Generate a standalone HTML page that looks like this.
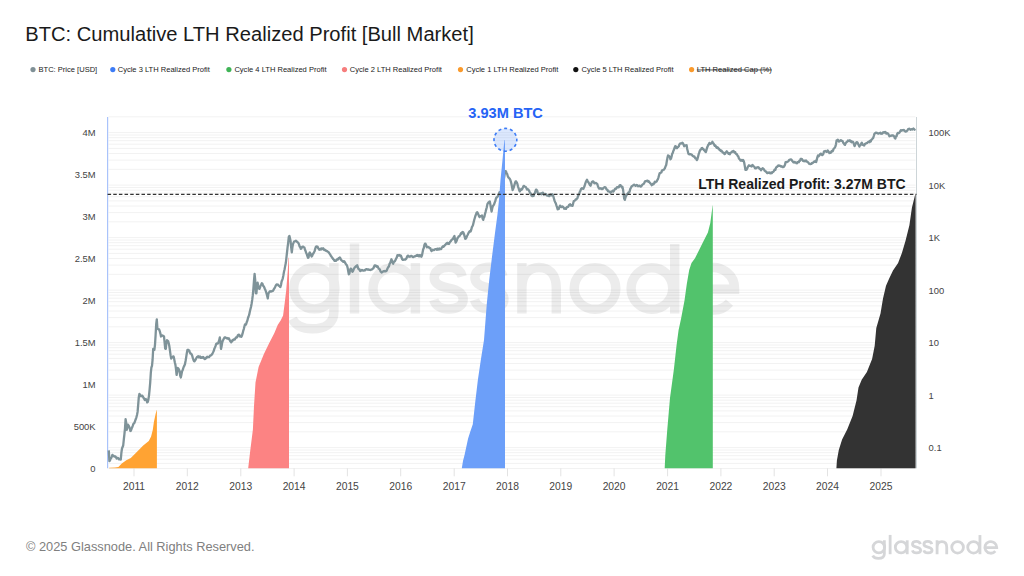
<!DOCTYPE html>
<html><head><meta charset="utf-8"><style>
html,body{margin:0;padding:0;background:#fff;width:1024px;height:576px;overflow:hidden}
svg{position:absolute;left:0;top:0;font-family:"Liberation Sans", sans-serif}
</style></head><body>
<svg width="1024" height="576" viewBox="0 0 1024 576">
<text x="25.3" y="41.3" font-size="20.15" fill="#1a1a1a">BTC: Cumulative LTH Realized Profit [Bull Market]</text>
<circle cx="33" cy="69.6" r="2.6" fill="#7f9096"/>
<text x="38.5" y="72.3" font-size="7.55" fill="#222">BTC: Price [USD]</text>
<circle cx="112.8" cy="69.6" r="2.6" fill="#3d7cf6"/>
<text x="117.7" y="72.3" font-size="7.55" fill="#222">Cycle 3 LTH Realized Profit</text>
<circle cx="228.9" cy="69.6" r="2.6" fill="#3fb456"/>
<text x="234.4" y="72.3" font-size="7.55" fill="#222">Cycle 4 LTH Realized Profit</text>
<circle cx="344.5" cy="69.6" r="2.6" fill="#f67d7d"/>
<text x="349.8" y="72.3" font-size="7.55" fill="#222">Cycle 2 LTH Realized Profit</text>
<circle cx="460.5" cy="69.6" r="2.6" fill="#fa9a2c"/>
<text x="466.2" y="72.3" font-size="7.55" fill="#222">Cycle 1 LTH Realized Profit</text>
<circle cx="575.8" cy="69.6" r="2.6" fill="#111"/>
<text x="581.5" y="72.3" font-size="7.55" fill="#222">Cycle 5 LTH Realized Profit</text>
<circle cx="691.6" cy="69.6" r="2.6" fill="#fa9a2c"/>
<text x="696.8" y="72.3" font-size="7.55" fill="#222" text-decoration="line-through">LTH Realized Cap (%)</text>
<line x1="108.6" x2="915.5" y1="468.5" y2="468.5" stroke="#f2f2f2" stroke-width="1"/>
<line x1="108.6" x2="915.5" y1="463.4" y2="463.4" stroke="#f2f2f2" stroke-width="1"/>
<line x1="108.6" x2="915.5" y1="459.2" y2="459.2" stroke="#f2f2f2" stroke-width="1"/>
<line x1="108.6" x2="915.5" y1="455.7" y2="455.7" stroke="#f2f2f2" stroke-width="1"/>
<line x1="108.6" x2="915.5" y1="452.7" y2="452.7" stroke="#f2f2f2" stroke-width="1"/>
<line x1="108.6" x2="915.5" y1="450.0" y2="450.0" stroke="#f2f2f2" stroke-width="1"/>
<line x1="108.6" x2="915.5" y1="447.6" y2="447.6" stroke="#f2f2f2" stroke-width="1"/>
<line x1="108.6" x2="915.5" y1="431.8" y2="431.8" stroke="#f2f2f2" stroke-width="1"/>
<line x1="108.6" x2="915.5" y1="422.6" y2="422.6" stroke="#f2f2f2" stroke-width="1"/>
<line x1="108.6" x2="915.5" y1="416.0" y2="416.0" stroke="#f2f2f2" stroke-width="1"/>
<line x1="108.6" x2="915.5" y1="410.9" y2="410.9" stroke="#f2f2f2" stroke-width="1"/>
<line x1="108.6" x2="915.5" y1="406.7" y2="406.7" stroke="#f2f2f2" stroke-width="1"/>
<line x1="108.6" x2="915.5" y1="403.2" y2="403.2" stroke="#f2f2f2" stroke-width="1"/>
<line x1="108.6" x2="915.5" y1="400.2" y2="400.2" stroke="#f2f2f2" stroke-width="1"/>
<line x1="108.6" x2="915.5" y1="397.5" y2="397.5" stroke="#f2f2f2" stroke-width="1"/>
<line x1="108.6" x2="915.5" y1="395.1" y2="395.1" stroke="#f2f2f2" stroke-width="1"/>
<line x1="108.6" x2="915.5" y1="379.3" y2="379.3" stroke="#f2f2f2" stroke-width="1"/>
<line x1="108.6" x2="915.5" y1="370.1" y2="370.1" stroke="#f2f2f2" stroke-width="1"/>
<line x1="108.6" x2="915.5" y1="363.5" y2="363.5" stroke="#f2f2f2" stroke-width="1"/>
<line x1="108.6" x2="915.5" y1="358.4" y2="358.4" stroke="#f2f2f2" stroke-width="1"/>
<line x1="108.6" x2="915.5" y1="354.2" y2="354.2" stroke="#f2f2f2" stroke-width="1"/>
<line x1="108.6" x2="915.5" y1="350.7" y2="350.7" stroke="#f2f2f2" stroke-width="1"/>
<line x1="108.6" x2="915.5" y1="347.7" y2="347.7" stroke="#f2f2f2" stroke-width="1"/>
<line x1="108.6" x2="915.5" y1="345.0" y2="345.0" stroke="#f2f2f2" stroke-width="1"/>
<line x1="108.6" x2="915.5" y1="342.6" y2="342.6" stroke="#f2f2f2" stroke-width="1"/>
<line x1="108.6" x2="915.5" y1="326.8" y2="326.8" stroke="#f2f2f2" stroke-width="1"/>
<line x1="108.6" x2="915.5" y1="317.6" y2="317.6" stroke="#f2f2f2" stroke-width="1"/>
<line x1="108.6" x2="915.5" y1="311.0" y2="311.0" stroke="#f2f2f2" stroke-width="1"/>
<line x1="108.6" x2="915.5" y1="305.9" y2="305.9" stroke="#f2f2f2" stroke-width="1"/>
<line x1="108.6" x2="915.5" y1="301.7" y2="301.7" stroke="#f2f2f2" stroke-width="1"/>
<line x1="108.6" x2="915.5" y1="298.2" y2="298.2" stroke="#f2f2f2" stroke-width="1"/>
<line x1="108.6" x2="915.5" y1="295.2" y2="295.2" stroke="#f2f2f2" stroke-width="1"/>
<line x1="108.6" x2="915.5" y1="292.5" y2="292.5" stroke="#f2f2f2" stroke-width="1"/>
<line x1="108.6" x2="915.5" y1="290.1" y2="290.1" stroke="#f2f2f2" stroke-width="1"/>
<line x1="108.6" x2="915.5" y1="274.3" y2="274.3" stroke="#f2f2f2" stroke-width="1"/>
<line x1="108.6" x2="915.5" y1="265.1" y2="265.1" stroke="#f2f2f2" stroke-width="1"/>
<line x1="108.6" x2="915.5" y1="258.5" y2="258.5" stroke="#f2f2f2" stroke-width="1"/>
<line x1="108.6" x2="915.5" y1="253.4" y2="253.4" stroke="#f2f2f2" stroke-width="1"/>
<line x1="108.6" x2="915.5" y1="249.2" y2="249.2" stroke="#f2f2f2" stroke-width="1"/>
<line x1="108.6" x2="915.5" y1="245.7" y2="245.7" stroke="#f2f2f2" stroke-width="1"/>
<line x1="108.6" x2="915.5" y1="242.7" y2="242.7" stroke="#f2f2f2" stroke-width="1"/>
<line x1="108.6" x2="915.5" y1="240.0" y2="240.0" stroke="#f2f2f2" stroke-width="1"/>
<line x1="108.6" x2="915.5" y1="237.6" y2="237.6" stroke="#f2f2f2" stroke-width="1"/>
<line x1="108.6" x2="915.5" y1="221.8" y2="221.8" stroke="#f2f2f2" stroke-width="1"/>
<line x1="108.6" x2="915.5" y1="212.6" y2="212.6" stroke="#f2f2f2" stroke-width="1"/>
<line x1="108.6" x2="915.5" y1="206.0" y2="206.0" stroke="#f2f2f2" stroke-width="1"/>
<line x1="108.6" x2="915.5" y1="200.9" y2="200.9" stroke="#f2f2f2" stroke-width="1"/>
<line x1="108.6" x2="915.5" y1="196.7" y2="196.7" stroke="#f2f2f2" stroke-width="1"/>
<line x1="108.6" x2="915.5" y1="193.2" y2="193.2" stroke="#f2f2f2" stroke-width="1"/>
<line x1="108.6" x2="915.5" y1="190.2" y2="190.2" stroke="#f2f2f2" stroke-width="1"/>
<line x1="108.6" x2="915.5" y1="187.5" y2="187.5" stroke="#f2f2f2" stroke-width="1"/>
<line x1="108.6" x2="915.5" y1="185.1" y2="185.1" stroke="#f2f2f2" stroke-width="1"/>
<line x1="108.6" x2="915.5" y1="169.3" y2="169.3" stroke="#f2f2f2" stroke-width="1"/>
<line x1="108.6" x2="915.5" y1="160.1" y2="160.1" stroke="#f2f2f2" stroke-width="1"/>
<line x1="108.6" x2="915.5" y1="153.5" y2="153.5" stroke="#f2f2f2" stroke-width="1"/>
<line x1="108.6" x2="915.5" y1="148.4" y2="148.4" stroke="#f2f2f2" stroke-width="1"/>
<line x1="108.6" x2="915.5" y1="144.2" y2="144.2" stroke="#f2f2f2" stroke-width="1"/>
<line x1="108.6" x2="915.5" y1="140.7" y2="140.7" stroke="#f2f2f2" stroke-width="1"/>
<line x1="108.6" x2="915.5" y1="137.7" y2="137.7" stroke="#f2f2f2" stroke-width="1"/>
<line x1="108.6" x2="915.5" y1="135.0" y2="135.0" stroke="#f2f2f2" stroke-width="1"/>
<line x1="108.6" x2="915.5" y1="132.6" y2="132.6" stroke="#f2f2f2" stroke-width="1"/>
<line x1="108.6" x2="915.5" y1="116.8" y2="116.8" stroke="#f2f2f2" stroke-width="1"/>
<line x1="134.0" x2="134.0" y1="468.3" y2="476.3" stroke="#e3e3e3" stroke-width="1"/>
<text transform="translate(134.0,489.6) scale(1,1.02)" text-anchor="middle" font-size="10.3" fill="#444">2011</text>
<line x1="187.3" x2="187.3" y1="468.3" y2="476.3" stroke="#e3e3e3" stroke-width="1"/>
<text transform="translate(187.3,489.6) scale(1,1.02)" text-anchor="middle" font-size="10.3" fill="#444">2012</text>
<line x1="240.8" x2="240.8" y1="468.3" y2="476.3" stroke="#e3e3e3" stroke-width="1"/>
<text transform="translate(240.8,489.6) scale(1,1.02)" text-anchor="middle" font-size="10.3" fill="#444">2013</text>
<line x1="294.1" x2="294.1" y1="468.3" y2="476.3" stroke="#e3e3e3" stroke-width="1"/>
<text transform="translate(294.1,489.6) scale(1,1.02)" text-anchor="middle" font-size="10.3" fill="#444">2014</text>
<line x1="347.4" x2="347.4" y1="468.3" y2="476.3" stroke="#e3e3e3" stroke-width="1"/>
<text transform="translate(347.4,489.6) scale(1,1.02)" text-anchor="middle" font-size="10.3" fill="#444">2015</text>
<line x1="400.7" x2="400.7" y1="468.3" y2="476.3" stroke="#e3e3e3" stroke-width="1"/>
<text transform="translate(400.7,489.6) scale(1,1.02)" text-anchor="middle" font-size="10.3" fill="#444">2016</text>
<line x1="454.2" x2="454.2" y1="468.3" y2="476.3" stroke="#e3e3e3" stroke-width="1"/>
<text transform="translate(454.2,489.6) scale(1,1.02)" text-anchor="middle" font-size="10.3" fill="#444">2017</text>
<line x1="507.5" x2="507.5" y1="468.3" y2="476.3" stroke="#e3e3e3" stroke-width="1"/>
<text transform="translate(507.5,489.6) scale(1,1.02)" text-anchor="middle" font-size="10.3" fill="#444">2018</text>
<line x1="560.8" x2="560.8" y1="468.3" y2="476.3" stroke="#e3e3e3" stroke-width="1"/>
<text transform="translate(560.8,489.6) scale(1,1.02)" text-anchor="middle" font-size="10.3" fill="#444">2019</text>
<line x1="614.1" x2="614.1" y1="468.3" y2="476.3" stroke="#e3e3e3" stroke-width="1"/>
<text transform="translate(614.1,489.6) scale(1,1.02)" text-anchor="middle" font-size="10.3" fill="#444">2020</text>
<line x1="667.6" x2="667.6" y1="468.3" y2="476.3" stroke="#e3e3e3" stroke-width="1"/>
<text transform="translate(667.6,489.6) scale(1,1.02)" text-anchor="middle" font-size="10.3" fill="#444">2021</text>
<line x1="720.9" x2="720.9" y1="468.3" y2="476.3" stroke="#e3e3e3" stroke-width="1"/>
<text transform="translate(720.9,489.6) scale(1,1.02)" text-anchor="middle" font-size="10.3" fill="#444">2022</text>
<line x1="774.2" x2="774.2" y1="468.3" y2="476.3" stroke="#e3e3e3" stroke-width="1"/>
<text transform="translate(774.2,489.6) scale(1,1.02)" text-anchor="middle" font-size="10.3" fill="#444">2023</text>
<line x1="827.5" x2="827.5" y1="468.3" y2="476.3" stroke="#e3e3e3" stroke-width="1"/>
<text transform="translate(827.5,489.6) scale(1,1.02)" text-anchor="middle" font-size="10.3" fill="#444">2024</text>
<line x1="881.0" x2="881.0" y1="468.3" y2="476.3" stroke="#e3e3e3" stroke-width="1"/>
<text transform="translate(881.0,489.6) scale(1,1.02)" text-anchor="middle" font-size="10.3" fill="#444">2025</text>
<text transform="translate(95.6,471.9) scale(0.98,1.04)" text-anchor="end" font-size="9.6" fill="#444">0</text>
<text transform="translate(95.6,430.0) scale(0.98,1.04)" text-anchor="end" font-size="9.6" fill="#444">500K</text>
<text transform="translate(95.6,388.0) scale(0.98,1.04)" text-anchor="end" font-size="9.6" fill="#444">1M</text>
<text transform="translate(95.6,346.1) scale(0.98,1.04)" text-anchor="end" font-size="9.6" fill="#444">1.5M</text>
<text transform="translate(95.6,304.1) scale(0.98,1.04)" text-anchor="end" font-size="9.6" fill="#444">2M</text>
<text transform="translate(95.6,262.2) scale(0.98,1.04)" text-anchor="end" font-size="9.6" fill="#444">2.5M</text>
<text transform="translate(95.6,220.2) scale(0.98,1.04)" text-anchor="end" font-size="9.6" fill="#444">3M</text>
<text transform="translate(95.6,178.2) scale(0.98,1.04)" text-anchor="end" font-size="9.6" fill="#444">3.5M</text>
<text transform="translate(95.6,136.3) scale(0.98,1.04)" text-anchor="end" font-size="9.6" fill="#444">4M</text>
<text transform="translate(928.6,136.2) scale(0.98,1.04)" font-size="9.6" fill="#444">100K</text>
<text transform="translate(928.6,188.7) scale(0.98,1.04)" font-size="9.6" fill="#444">10K</text>
<text transform="translate(928.6,241.2) scale(0.98,1.04)" font-size="9.6" fill="#444">1K</text>
<text transform="translate(928.6,293.7) scale(0.98,1.04)" font-size="9.6" fill="#444">100</text>
<text transform="translate(928.6,346.2) scale(0.98,1.04)" font-size="9.6" fill="#444">10</text>
<text transform="translate(928.6,398.7) scale(0.98,1.04)" font-size="9.6" fill="#444">1</text>
<text transform="translate(928.6,451.2) scale(0.98,1.04)" font-size="9.6" fill="#444">0.1</text>
<g fill="none" stroke="#000" stroke-width="9.4" opacity="0.07"><circle cx="314.3" cy="288.3" r="20.6"/>
<path d="M333.9,263 V312 C333.9,323.5 325,328.8 312.5,328.8 C302,328.8 295.5,325 292.3,318.8"/>
<path d="M354.5,243.5 V313.5"/>
<circle cx="393.6" cy="288.4" r="20.6"/>
<path d="M415.4,263 V313.5"/>
<path transform="translate(0,0)" d="M462.2,276.5 C460.5,270.5 455.5,267.3 448.6,267.3 C440,267.3 434.2,271.5 434.2,277.7 C434.2,284.2 441,286.5 448.6,288 C456.2,289.5 463.2,292 463.2,299.4 C463.2,305.5 457,309 448.6,309 C441,309 435.5,305.5 433.8,299.8"/>
<path transform="translate(40.7,0)" d="M462.2,276.5 C460.5,270.5 455.5,267.3 448.6,267.3 C440,267.3 434.2,271.5 434.2,277.7 C434.2,284.2 441,286.5 448.6,288 C456.2,289.5 463.2,292 463.2,299.4 C463.2,305.5 457,309 448.6,309 C441,309 435.5,305.5 433.8,299.8"/>
<path d="M521.9,263 V313.5 M521.9,288 C521.9,274 529.5,267.5 539.1,267.5 C548.7,267.5 556.3,274 556.3,288 V313.5"/>
<circle cx="595" cy="288.5" r="20.8"/>
<circle cx="651.9" cy="288.5" r="20.8"/>
<path d="M674.7,244 V313.5"/>
<path d="M692.3,289.3 H734.6 A21.2,21.2 0 1 0 729.5,302.6"/></g>
<line x1="107.6" x2="107.6" y1="117" y2="468.3" stroke="#a9c3fb" stroke-width="1.2"/>
<line x1="916.5" x2="916.5" y1="117" y2="468.3" stroke="#cdd5d8" stroke-width="1"/>
<polyline points="108.8,450.4 109.4,461.1 110.0,460.5 110.6,458.6 111.2,457.9 111.8,456.7 112.4,454.9 113.0,455.8 113.6,455.7 114.2,456.5 114.8,456.4 115.4,456.5 116.0,457.3 116.6,458.5 117.2,458.0 117.8,457.8 118.4,458.4 119.0,459.3 119.6,459.1 120.2,458.7 120.8,459.5 121.4,452.6 122.0,448.5 122.6,447.0 123.2,445.5 123.8,439.7 124.4,434.3 125.0,428.3 125.6,419.2 126.2,422.6 126.8,429.8 127.4,427.0 128.0,424.7 128.6,425.6 129.2,426.8 129.8,428.5 130.4,431.0 131.0,430.5 131.6,428.6 132.2,427.3 132.8,425.7 133.4,423.9 134.0,423.4 134.6,422.5 135.2,420.6 135.8,419.0 136.4,417.3 137.0,415.0 137.6,411.9 138.2,404.6 138.8,397.1 139.4,393.9 140.0,394.6 140.6,396.0 141.2,395.7 141.8,396.2 142.4,395.8 143.0,396.8 143.6,398.0 144.2,398.8 144.8,400.1 145.4,399.4 146.0,399.1 146.6,400.0 147.2,402.4 147.8,401.9 148.4,399.4 149.0,395.6 149.6,389.5 150.2,382.6 150.8,373.2 151.4,367.5 152.0,365.9 152.6,359.7 153.2,348.8 153.8,349.0 154.4,349.8 155.0,344.6 155.6,335.2 156.2,324.2 156.8,319.4 157.4,328.3 158.0,329.0 158.6,329.4 159.2,329.5 159.8,331.4 160.4,333.6 161.0,336.5 161.6,335.5 162.2,335.5 162.8,335.6 163.4,336.2 164.0,336.3 164.6,342.4 165.2,348.6 165.8,348.8 166.4,342.5 167.0,340.2 167.6,340.8 168.2,341.2 168.8,343.6 169.4,346.6 170.0,350.8 170.6,355.4 171.2,358.5 171.8,357.8 172.4,356.7 173.0,356.7 173.6,356.4 174.2,359.1 174.8,362.3 175.4,364.6 176.0,369.2 176.6,374.9 177.2,372.0 177.8,368.0 178.4,368.6 179.0,369.8 179.6,371.0 180.2,375.6 180.8,377.5 181.4,374.7 182.0,371.5 182.6,370.3 183.2,368.3 183.8,366.7 184.4,365.6 185.0,364.0 185.6,360.8 186.2,357.1 186.8,353.3 187.4,350.0 188.0,349.7 188.6,350.4 189.2,350.4 189.8,352.4 190.4,353.5 191.0,353.6 191.6,354.2 192.2,355.7 192.8,357.9 193.4,359.7 194.0,361.1 194.6,361.3 195.2,360.2 195.8,359.4 196.4,358.0 197.0,357.0 197.6,356.6 198.2,356.2 198.8,357.4 199.4,356.8 200.0,356.4 200.6,357.8 201.2,357.9 201.8,357.3 202.4,357.8 203.0,357.0 203.6,357.5 204.2,358.6 204.8,359.0 205.4,358.9 206.0,358.0 206.6,357.5 207.2,356.7 207.8,357.3 208.4,357.0 209.0,357.2 209.6,356.4 210.2,355.5 210.8,355.3 211.4,355.1 212.0,354.3 212.6,353.3 213.2,352.1 213.8,350.8 214.4,348.6 215.0,347.4 215.6,345.9 216.2,343.9 216.8,343.5 217.4,343.7 218.0,343.4 218.6,341.8 219.2,340.2 219.8,337.4 220.4,341.7 221.0,348.9 221.6,346.3 222.2,342.6 222.8,340.7 223.4,339.5 224.0,338.4 224.6,337.5 225.2,337.4 225.8,337.7 226.4,338.3 227.0,338.0 227.6,338.3 228.2,338.8 228.8,338.3 229.4,339.4 230.0,340.8 230.6,341.6 231.2,342.4 231.8,341.6 232.4,340.2 233.0,340.4 233.6,339.4 234.2,339.4 234.8,339.6 235.4,338.3 236.0,337.4 236.6,337.5 237.2,337.0 237.8,335.4 238.4,334.8 239.0,334.6 239.6,336.0 240.2,336.6 240.8,335.8 241.4,336.7 242.0,335.5 242.6,333.4 243.2,330.9 243.8,329.1 244.4,326.5 245.0,324.3 245.6,324.9 246.2,324.0 246.8,321.9 247.4,320.6 248.0,318.0 248.6,316.5 249.2,314.7 249.8,311.7 250.4,309.2 251.0,307.0 251.6,303.7 252.2,299.9 252.8,295.2 253.4,288.7 254.0,280.5 254.6,273.8 255.2,279.8 255.8,293.3 256.4,293.3 257.0,286.9 257.6,282.6 258.2,286.0 258.8,288.3 259.4,288.9 260.0,287.6 260.6,285.5 261.2,284.5 261.8,283.3 262.4,283.7 263.0,285.7 263.6,286.1 264.2,287.3 264.8,288.8 265.4,290.1 266.0,291.7 266.6,293.8 267.2,295.9 267.8,298.4 268.4,293.6 269.0,292.4 269.6,291.7 270.2,291.2 270.8,291.7 271.4,291.4 272.0,291.2 272.6,290.9 273.2,290.6 273.8,289.2 274.4,288.4 275.0,287.2 275.6,285.9 276.2,285.0 276.8,284.3 277.4,284.5 278.0,284.7 278.6,285.7 279.2,285.9 279.8,286.5 280.4,287.0 281.0,285.0 281.6,281.5 282.2,280.0 282.8,278.3 283.4,275.3 284.0,271.8 284.6,269.2 285.2,265.9 285.8,263.1 286.4,257.8 287.0,252.5 287.6,247.1 288.2,242.6 288.8,236.8 289.4,235.9 290.0,238.3 290.6,241.3 291.2,247.7 291.8,252.3 292.4,247.3 293.0,244.1 293.6,242.6 294.2,241.5 294.8,241.4 295.4,241.2 296.0,240.7 296.6,241.3 297.2,242.0 297.8,242.4 298.4,243.0 299.0,244.4 299.6,246.5 300.2,247.0 300.8,248.9 301.4,248.4 302.0,247.1 302.6,246.6 303.2,246.6 303.8,247.2 304.4,247.5 305.0,249.8 305.6,251.1 306.2,253.0 306.8,254.1 307.4,256.1 308.0,257.8 308.6,257.3 309.2,253.5 309.8,252.4 310.4,253.5 311.0,255.3 311.6,256.5 312.2,255.8 312.8,253.9 313.4,253.6 314.0,252.3 314.6,251.2 315.2,248.9 315.8,247.0 316.4,246.5 317.0,246.9 317.6,246.7 318.2,248.3 318.8,248.9 319.4,249.7 320.0,248.9 320.6,249.6 321.2,248.4 321.8,249.2 322.4,248.8 323.0,248.3 323.6,248.7 324.2,250.1 324.8,249.9 325.4,249.8 326.0,250.8 326.6,251.1 327.2,251.2 327.8,251.7 328.4,252.0 329.0,252.8 329.6,253.7 330.2,254.4 330.8,255.9 331.4,256.4 332.0,257.6 332.6,258.1 333.2,259.2 333.8,259.7 334.4,260.8 335.0,260.4 335.6,260.9 336.2,260.6 336.8,259.5 337.4,259.1 338.0,259.6 338.6,258.1 339.2,258.3 339.8,257.5 340.4,258.2 341.0,259.8 341.6,260.4 342.2,260.9 342.8,261.2 343.4,261.9 344.0,261.1 344.6,261.8 345.2,262.9 345.8,264.0 346.4,264.7 347.0,265.5 347.6,267.6 348.2,271.0 348.8,274.4 349.4,273.6 350.0,270.3 350.6,268.7 351.2,268.9 351.8,270.6 352.4,271.8 353.0,271.0 353.6,269.5 354.2,268.3 354.8,267.3 355.4,267.0 356.0,266.1 356.6,265.9 357.2,265.3 357.8,267.3 358.4,268.8 359.0,269.3 359.6,269.4 360.2,271.1 360.8,270.6 361.4,270.5 362.0,269.9 362.6,270.4 363.2,270.6 363.8,270.7 364.4,270.1 365.0,270.3 365.6,269.4 366.2,269.3 366.8,269.1 367.4,269.7 368.0,269.4 368.6,269.3 369.2,269.8 369.8,269.9 370.4,270.0 371.0,269.7 371.6,269.6 372.2,269.2 372.8,268.6 373.4,268.2 374.0,266.7 374.6,265.4 375.2,266.1 375.8,265.5 376.4,266.4 377.0,266.9 377.6,266.3 378.2,267.6 378.8,268.7 379.4,269.0 380.0,269.9 380.6,271.6 381.2,272.0 381.8,272.5 382.4,271.8 383.0,271.6 383.6,271.2 384.2,271.4 384.8,271.0 385.4,271.4 386.0,271.2 386.6,270.8 387.2,269.3 387.8,267.9 388.4,267.0 389.0,266.2 389.6,263.8 390.2,263.0 390.8,261.1 391.4,259.3 392.0,260.8 392.6,262.5 393.2,263.7 393.8,261.7 394.4,261.6 395.0,261.1 395.6,259.8 396.2,258.5 396.8,257.4 397.4,255.2 398.0,255.8 398.6,255.5 399.2,255.0 399.8,255.2 400.4,256.1 401.0,255.8 401.6,257.5 402.2,259.3 402.8,259.9 403.4,259.8 404.0,259.5 404.6,259.6 405.2,259.7 405.8,259.1 406.4,258.5 407.0,256.9 407.6,255.8 408.2,255.6 408.8,256.6 409.4,256.4 410.0,256.8 410.6,256.2 411.2,255.9 411.8,256.1 412.4,256.7 413.0,257.1 413.6,257.1 414.2,256.4 414.8,256.4 415.4,256.1 416.0,255.9 416.6,255.1 417.2,255.9 417.8,255.0 418.4,255.9 419.0,256.4 419.6,255.1 420.2,255.2 420.8,255.9 421.4,256.7 422.0,255.3 422.6,252.2 423.2,249.2 423.8,248.0 424.4,245.0 425.0,243.6 425.6,243.9 426.2,245.3 426.8,247.2 427.4,246.6 428.0,247.3 428.6,247.1 429.2,247.7 429.8,248.1 430.4,248.4 431.0,250.2 431.6,251.0 432.2,250.4 432.8,249.7 433.4,250.0 434.0,250.1 434.6,249.7 435.2,249.2 435.8,249.2 436.4,249.0 437.0,249.8 437.6,248.6 438.2,249.2 438.8,249.6 439.4,248.5 440.0,249.2 440.6,249.0 441.2,249.0 441.8,247.6 442.4,246.9 443.0,246.2 443.6,246.8 444.2,246.1 444.8,245.2 445.4,244.8 446.0,244.1 446.6,243.3 447.2,242.8 447.8,243.7 448.4,243.1 449.0,243.9 449.6,242.6 450.2,241.6 450.8,241.2 451.4,240.1 452.0,239.5 452.6,239.4 453.2,238.4 453.8,237.0 454.4,236.0 455.0,239.3 455.6,242.6 456.2,241.6 456.8,240.5 457.4,238.2 458.0,237.7 458.6,236.4 459.2,236.3 459.8,235.7 460.4,234.5 461.0,233.1 461.6,233.7 462.2,232.3 462.8,231.9 463.4,232.6 464.0,234.1 464.6,236.4 465.2,238.8 465.8,238.7 466.4,237.7 467.0,236.0 467.6,235.0 468.2,233.6 468.8,232.5 469.4,231.6 470.0,230.9 470.6,231.5 471.2,229.9 471.8,227.4 472.4,226.3 473.0,225.0 473.6,222.5 474.2,220.0 474.8,218.0 475.4,215.9 476.0,214.5 476.6,212.6 477.2,212.2 477.8,213.1 478.4,214.5 479.0,216.2 479.6,217.1 480.2,216.4 480.8,216.0 481.4,215.8 482.0,215.4 482.6,218.5 483.2,219.9 483.8,217.7 484.4,216.8 485.0,213.8 485.6,211.8 486.2,209.4 486.8,207.3 487.4,204.1 488.0,203.1 488.6,202.3 489.2,201.8 489.8,201.4 490.4,204.8 491.0,208.2 491.6,211.5 492.2,208.5 492.8,206.2 493.4,205.4 494.0,204.6 494.6,202.8 495.2,201.4 495.8,198.9 496.4,197.6 497.0,197.3 497.6,196.5 498.2,195.6 498.8,194.8 499.4,192.4 500.0,192.2 500.6,192.4 501.2,193.4 501.8,190.4 502.4,187.6 503.0,184.1 503.6,180.5 504.2,177.1 504.8,173.1 505.4,171.1 506.0,171.3 506.6,173.3 507.2,174.0 507.8,176.2 508.4,177.4 509.0,178.0 509.6,178.6 510.2,179.6 510.8,181.4 511.4,183.7 512.0,186.8 512.6,190.1 513.2,188.7 513.8,187.2 514.4,185.2 515.0,182.9 515.6,181.4 516.2,181.5 516.8,182.5 517.4,183.9 518.0,186.6 518.6,188.2 519.2,190.3 519.8,191.4 520.4,190.4 521.0,189.3 521.6,189.7 522.2,189.1 522.8,187.8 523.4,186.2 524.0,185.9 524.6,186.4 525.2,186.8 525.8,187.0 526.4,188.1 527.0,189.5 527.6,189.2 528.2,189.3 528.8,190.3 529.4,191.4 530.0,192.9 530.6,193.2 531.2,194.9 531.8,195.8 532.4,196.1 533.0,196.0 533.6,195.8 534.2,193.9 534.8,193.3 535.4,191.3 536.0,189.6 536.6,189.9 537.2,190.7 537.8,192.9 538.4,193.8 539.0,194.3 539.6,193.6 540.2,193.5 540.8,193.8 541.4,194.3 542.0,193.0 542.6,192.7 543.2,192.9 543.8,194.7 544.4,194.4 545.0,194.4 545.6,194.0 546.2,194.3 546.8,195.3 547.4,195.7 548.0,195.7 548.6,196.0 549.2,196.2 549.8,195.2 550.4,194.4 551.0,195.3 551.6,195.4 552.2,194.2 552.8,194.7 553.4,196.5 554.0,198.7 554.6,200.9 555.2,202.3 555.8,203.4 556.4,205.3 557.0,207.0 557.6,209.3 558.2,209.2 558.8,209.0 559.4,207.0 560.0,205.6 560.6,206.2 561.2,207.0 561.8,207.0 562.4,206.4 563.0,207.0 563.6,207.4 564.2,208.7 564.8,208.3 565.4,208.6 566.0,208.9 566.6,207.3 567.2,206.8 567.8,207.0 568.4,206.7 569.0,205.1 569.6,204.5 570.2,204.2 570.8,205.6 571.4,205.2 572.0,205.8 572.6,205.8 573.2,203.3 573.8,201.0 574.4,200.8 575.0,200.5 575.6,199.5 576.2,199.6 576.8,198.8 577.4,198.2 578.0,196.1 578.6,195.1 579.2,193.9 579.8,191.8 580.4,190.9 581.0,189.1 581.6,188.4 582.2,188.2 582.8,188.8 583.4,188.8 584.0,187.4 584.6,186.0 585.2,183.9 585.8,182.0 586.4,180.9 587.0,179.8 587.6,181.1 588.2,182.0 588.8,182.9 589.4,184.1 590.0,185.1 590.6,185.7 591.2,183.8 591.8,182.1 592.4,181.6 593.0,181.4 593.6,181.7 594.2,183.1 594.8,183.3 595.4,183.0 596.0,182.8 596.6,183.7 597.2,183.9 597.8,185.7 598.4,187.2 599.0,188.6 599.6,188.6 600.2,188.5 600.8,188.1 601.4,188.5 602.0,189.2 602.6,189.0 603.2,188.1 603.8,187.6 604.4,187.4 605.0,187.1 605.6,187.5 606.2,188.8 606.8,189.7 607.4,189.6 608.0,191.3 608.6,191.1 609.2,191.6 609.8,191.8 610.4,192.7 611.0,192.0 611.6,191.5 612.2,191.2 612.8,190.7 613.4,191.5 614.0,190.8 614.6,189.6 615.2,188.7 615.8,188.9 616.4,188.2 617.0,187.2 617.6,187.4 618.2,187.1 618.8,187.3 619.4,185.6 620.0,185.1 620.6,185.2 621.2,186.3 621.8,187.4 622.4,186.8 623.0,189.3 623.6,193.7 624.2,198.5 624.8,199.9 625.4,197.7 626.0,196.0 626.6,194.3 627.2,194.4 627.8,193.5 628.4,192.5 629.0,192.4 629.6,191.7 630.2,189.1 630.8,188.0 631.4,186.8 632.0,186.0 632.6,185.8 633.2,185.2 633.8,184.9 634.4,184.7 635.0,185.3 635.6,185.9 636.2,185.4 636.8,185.0 637.4,185.3 638.0,186.2 638.6,185.8 639.2,185.8 639.8,185.6 640.4,186.5 641.0,186.6 641.6,185.8 642.2,184.8 642.8,184.3 643.4,184.0 644.0,183.6 644.6,182.1 645.2,181.2 645.8,181.4 646.4,181.0 647.0,180.7 647.6,180.6 648.2,181.7 648.8,181.2 649.4,182.3 650.0,182.9 650.6,183.6 651.2,184.4 651.8,185.2 652.4,184.5 653.0,183.8 653.6,184.3 654.2,183.1 654.8,181.8 655.4,182.4 656.0,181.6 656.6,181.6 657.2,180.2 657.8,179.4 658.4,177.6 659.0,175.5 659.6,173.4 660.2,173.1 660.8,172.6 661.4,172.4 662.0,170.3 662.6,170.3 663.2,169.8 663.8,169.7 664.4,168.9 665.0,168.0 665.6,166.2 666.2,165.0 666.8,161.3 667.4,158.1 668.0,155.4 668.6,155.8 669.2,156.2 669.8,156.9 670.4,159.3 671.0,158.7 671.6,156.5 672.2,153.7 672.8,152.9 673.4,150.7 674.0,149.6 674.6,147.6 675.2,146.1 675.8,146.3 676.4,148.1 677.0,148.2 677.6,147.2 678.2,146.9 678.8,146.3 679.4,144.4 680.0,143.6 680.6,143.4 681.2,143.5 681.8,143.2 682.4,142.8 683.0,143.4 683.6,144.8 684.2,146.2 684.8,145.5 685.4,145.5 686.0,145.8 686.6,145.1 687.2,149.0 687.8,151.3 688.4,153.8 689.0,154.1 689.6,154.4 690.2,154.1 690.8,154.2 691.4,154.6 692.0,154.9 692.6,155.8 693.2,156.2 693.8,156.7 694.4,156.5 695.0,157.7 695.6,158.5 696.2,158.7 696.8,160.1 697.4,159.1 698.0,156.9 698.6,154.4 699.2,152.7 699.8,150.8 700.4,149.8 701.0,149.4 701.6,148.2 702.2,148.0 702.8,149.0 703.4,148.9 704.0,150.2 704.6,150.2 705.2,151.6 705.8,152.0 706.4,150.3 707.0,147.9 707.6,146.6 708.2,145.0 708.8,144.5 709.4,142.9 710.0,143.4 710.6,143.8 711.2,143.4 711.8,143.2 712.4,141.8 713.0,143.2 713.6,143.5 714.2,144.9 714.8,145.9 715.4,145.4 716.0,146.6 716.6,147.7 717.2,147.1 717.8,147.5 718.4,148.7 719.0,148.6 719.6,150.1 720.2,149.9 720.8,151.0 721.4,150.6 722.0,151.2 722.6,152.5 723.2,152.4 723.8,152.9 724.4,154.1 725.0,153.9 725.6,152.7 726.2,152.0 726.8,151.3 727.4,152.3 728.0,152.9 728.6,153.9 729.2,153.3 729.8,154.2 730.4,152.9 731.0,152.5 731.6,152.3 732.2,151.3 732.8,151.5 733.4,150.9 734.0,151.5 734.6,152.6 735.2,152.1 735.8,153.6 736.4,154.1 737.0,154.4 737.6,155.9 738.2,156.2 738.8,158.2 739.4,159.0 740.0,159.6 740.6,160.6 741.2,160.4 741.8,159.9 742.4,160.7 743.0,159.9 743.6,160.9 744.2,162.7 744.8,166.1 745.4,169.9 746.0,169.9 746.6,169.7 747.2,168.5 747.8,167.0 748.4,166.0 749.0,165.3 749.6,165.8 750.2,165.8 750.8,165.8 751.4,166.5 752.0,165.4 752.6,165.0 753.2,166.2 753.8,166.3 754.4,166.8 755.0,168.2 755.6,168.4 756.2,168.1 756.8,167.5 757.4,167.5 758.0,167.2 758.6,167.3 759.2,168.4 759.8,169.0 760.4,169.0 761.0,170.2 761.6,169.4 762.2,168.7 762.8,168.2 763.4,168.8 764.0,169.5 764.6,170.6 765.2,171.1 765.8,171.6 766.4,171.9 767.0,173.0 767.6,173.0 768.2,172.6 768.8,172.8 769.4,172.5 770.0,173.3 770.6,173.3 771.2,172.5 771.8,173.2 772.4,172.1 773.0,172.1 773.6,171.4 774.2,170.5 774.8,169.4 775.4,169.8 776.0,167.7 776.6,167.0 777.2,166.9 777.8,165.9 778.4,165.4 779.0,165.8 779.6,165.7 780.2,165.9 780.8,166.5 781.4,166.2 782.0,166.5 782.6,167.0 783.2,167.0 783.8,166.9 784.4,165.9 785.0,164.7 785.6,162.1 786.2,162.2 786.8,162.2 787.4,161.6 788.0,161.6 788.6,160.9 789.2,160.0 789.8,159.6 790.4,159.6 791.0,159.4 791.6,159.9 792.2,160.9 792.8,161.5 793.4,162.3 794.0,162.5 794.6,162.0 795.2,162.3 795.8,162.4 796.4,163.2 797.0,163.3 797.6,162.2 798.2,162.0 798.8,162.2 799.4,160.7 800.0,160.8 800.6,159.0 801.2,158.9 801.8,158.9 802.4,159.9 803.0,160.9 803.6,161.1 804.2,160.6 804.8,161.3 805.4,160.8 806.0,160.4 806.6,161.5 807.2,161.6 807.8,162.1 808.4,162.6 809.0,163.7 809.6,163.6 810.2,164.2 810.8,163.9 811.4,163.9 812.0,163.0 812.6,163.0 813.2,162.6 813.8,161.9 814.4,161.4 815.0,161.8 815.6,161.0 816.2,162.0 816.8,159.6 817.4,157.1 818.0,155.5 818.6,156.4 819.2,155.6 819.8,154.6 820.4,153.8 821.0,153.6 821.6,154.6 822.2,155.1 822.8,154.8 823.4,153.7 824.0,151.4 824.6,151.4 825.2,151.0 825.8,151.5 826.4,151.8 827.0,151.9 827.6,150.5 828.2,151.0 828.8,152.0 829.4,153.1 830.0,152.6 830.6,152.9 831.2,152.0 831.8,150.9 832.4,151.4 833.0,150.7 833.6,148.8 834.2,148.2 834.8,147.6 835.4,146.4 836.0,144.2 836.6,140.3 837.2,140.6 837.8,139.7 838.4,140.6 839.0,141.6 839.6,141.2 840.2,140.6 840.8,140.1 841.4,140.6 842.0,140.9 842.6,141.1 843.2,142.8 843.8,143.2 844.4,144.4 845.0,144.9 845.6,143.4 846.2,142.6 846.8,141.8 847.4,141.6 848.0,140.5 848.6,140.9 849.2,140.8 849.8,140.2 850.4,141.5 851.0,141.0 851.6,142.2 852.2,141.9 852.8,141.7 853.4,142.5 854.0,144.3 854.6,146.1 855.2,144.6 855.8,143.5 856.4,142.3 857.0,142.1 857.6,142.6 858.2,144.1 858.8,145.2 859.4,146.6 860.0,145.1 860.6,145.1 861.2,143.6 861.8,142.7 862.4,144.2 863.0,144.9 863.6,145.0 864.2,145.5 864.8,143.9 865.4,143.9 866.0,143.4 866.6,143.2 867.2,143.0 867.8,142.3 868.4,141.9 869.0,141.6 869.6,142.2 870.2,140.8 870.8,141.4 871.4,139.9 872.0,139.3 872.6,138.6 873.2,137.9 873.8,136.0 874.4,133.9 875.0,133.4 875.6,132.7 876.2,132.7 876.8,132.8 877.4,133.2 878.0,133.5 878.6,133.6 879.2,133.2 879.8,133.0 880.4,132.7 881.0,133.8 881.6,133.7 882.2,133.7 882.8,132.5 883.4,132.2 884.0,132.5 884.6,132.5 885.2,132.0 885.8,132.5 886.4,133.6 887.0,133.3 887.6,133.2 888.2,133.8 888.8,135.0 889.4,136.2 890.0,135.9 890.6,135.9 891.2,135.6 891.8,135.5 892.4,135.6 893.0,135.3 893.6,135.9 894.2,136.3 894.8,138.2 895.4,138.5 896.0,136.3 896.6,136.1 897.2,133.8 897.8,132.9 898.4,133.3 899.0,133.0 899.6,132.4 900.2,131.3 900.8,130.2 901.4,130.8 902.0,130.2 902.6,130.1 903.2,130.4 903.8,130.0 904.4,130.4 905.0,131.3 905.6,131.6 906.2,131.4 906.8,131.1 907.4,130.4 908.0,129.2 908.6,129.2 909.2,128.7 909.8,129.2 910.4,129.8 911.0,129.3 911.6,129.2 912.2,129.5 912.8,129.1 913.4,128.5 914.0,129.1 914.6,129.7 914.7,128.9" fill="none" stroke="#7f9399" stroke-width="2.3" stroke-linejoin="round"/>
<polygon points="109.1,468.3 109.1,467.7 115.0,467.6 118.4,467.0 121.8,463.6 126.3,460.2 130.8,458.0 135.3,453.5 139.8,449.0 143.2,445.6 148.8,441.1 151.1,436.6 152.8,429.8 153.9,421.9 155.6,414.0 156.7,410.1 156.9,410.1 156.9,468.3" fill="#ffa333"/>
<polygon points="248.2,468.3 250.3,450.2 252.9,429.4 254.0,405.9 255.5,382.5 258.6,366.9 263.9,353.9 269.0,343.4 274.4,333.0 277.7,325.0 280.8,320.3 283.1,315.6 284.7,303.1 286.2,290.6 287.8,270.3 288.6,257.8 289.0,257.8 289.0,468.3" fill="#fc8383"/>
<polygon points="461.8,468.3 463.0,461.0 464.6,454.8 468.1,438.4 470.5,431.0 472.8,424.3 475.1,403.2 477.9,379.8 481.0,358.7 484.0,340.0 485.0,327.1 486.8,303.7 489.2,280.3 492.0,256.8 495.0,233.0 497.4,215.0 499.0,200.0 500.5,180.0 502.5,160.0 503.8,146.0 504.6,140.0 505.0,140.0 505.0,468.3" fill="#6c9ff9"/>
<polygon points="664.7,468.3 665.3,455.2 667.3,429.2 670.0,397.9 673.9,369.3 676.5,345.8 678.6,329.9 681.0,319.1 684.5,300.4 686.8,284.0 689.2,270.0 691.5,262.9 695.0,258.2 698.5,251.2 703.2,241.8 707.9,232.5 710.3,223.1 712.6,205.5 712.8,205.5 712.8,468.3" fill="#52c36c"/>
<polygon points="836.4,468.3 836.9,460.4 838.8,450.0 842.1,439.6 847.3,429.2 852.6,416.1 856.5,400.5 858.5,387.5 861.7,379.7 866.9,371.9 872.1,358.9 874.7,345.8 876.3,328.0 880.5,313.5 883.0,298.4 886.0,285.8 889.3,278.2 893.0,270.6 898.1,263.1 901.9,253.0 905.6,240.4 909.4,225.3 911.9,207.7 915.2,194.6 915.6,194.6 915.6,468.3" fill="#333333"/>
<line x1="107.6" x2="916.5" y1="194.4" y2="194.4" stroke="#333" stroke-width="1.3" stroke-dasharray="3.5 2.15"/>
<circle cx="505.4" cy="139.8" r="11.4" fill="rgba(108,159,249,0.24)" stroke="#3d7cf6" stroke-width="1.6" stroke-dasharray="3.1 2.85" stroke-dashoffset="1.5"/>
<text x="468.3" y="117.9" font-size="14.6" font-weight="bold" fill="#2563f5">3.93M BTC</text>
<text x="698.2" y="189" font-size="14" font-weight="bold" fill="#1a1a1a">LTH Realized Profit: 3.27M BTC</text>
<g fill="none" stroke="#d5d6d8" stroke-width="10" transform="translate(871.9,540.3) scale(0.2805,0.2755) translate(-289.5,-263)"><circle cx="314.3" cy="288.3" r="20.6"/>
<path d="M333.9,263 V312 C333.9,323.5 325,328.8 312.5,328.8 C302,328.8 295.5,325 292.3,318.8"/>
<path d="M354.5,243.5 V313.5"/>
<circle cx="393.6" cy="288.4" r="20.6"/>
<path d="M415.4,263 V313.5"/>
<path transform="translate(0,0)" d="M462.2,276.5 C460.5,270.5 455.5,267.3 448.6,267.3 C440,267.3 434.2,271.5 434.2,277.7 C434.2,284.2 441,286.5 448.6,288 C456.2,289.5 463.2,292 463.2,299.4 C463.2,305.5 457,309 448.6,309 C441,309 435.5,305.5 433.8,299.8"/>
<path transform="translate(40.7,0)" d="M462.2,276.5 C460.5,270.5 455.5,267.3 448.6,267.3 C440,267.3 434.2,271.5 434.2,277.7 C434.2,284.2 441,286.5 448.6,288 C456.2,289.5 463.2,292 463.2,299.4 C463.2,305.5 457,309 448.6,309 C441,309 435.5,305.5 433.8,299.8"/>
<path d="M521.9,263 V313.5 M521.9,288 C521.9,274 529.5,267.5 539.1,267.5 C548.7,267.5 556.3,274 556.3,288 V313.5"/>
<circle cx="595" cy="288.5" r="20.8"/>
<circle cx="651.9" cy="288.5" r="20.8"/>
<path d="M674.7,244 V313.5"/>
<path d="M692.3,289.3 H734.6 A21.2,21.2 0 1 0 729.5,302.6"/></g>
<text x="26" y="551" font-size="12.8" fill="#808080">© 2025 Glassnode. All Rights Reserved.</text>
</svg>
</body></html>
